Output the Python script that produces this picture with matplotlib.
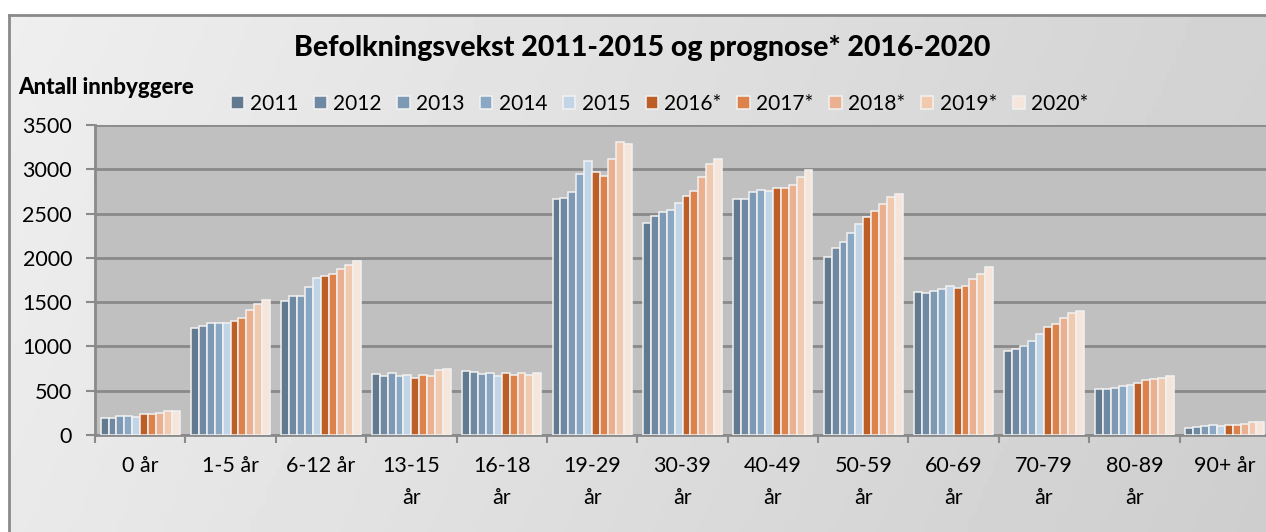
import matplotlib

matplotlib.use("Agg")
import matplotlib.pyplot as plt
import numpy as np

plt.rcParams["font.family"] = ["Lato", "DejaVu Sans"]

# ------------------------------------------------------------------ data
categories = ["0 år", "1-5 år", "6-12 år", "13-15\når", "16-18\når", "19-29\når",
              "30-39\når", "40-49\når", "50-59\når", "60-69\når", "70-79\når",
              "80-89\når", "90+ år"]
years = ["2011", "2012", "2013", "2014", "2015",
         "2016*", "2017*", "2018*", "2019*", "2020*"]

v2011 = [188, 1208, 1512, 692, 719, 2660, 2393, 2660, 2012, 1610, 952, 519, 79]
v2012 = [188, 1234, 1569, 662, 708, 2675, 2475, 2667, 2111, 1599, 967, 523, 94]
v2013 = [214, 1264, 1569, 700, 688, 2743, 2514, 2746, 2178, 1629, 1005, 527, 102]
v2014 = [218, 1261, 1667, 666, 696, 2942, 2536, 2765, 2283, 1651, 1065, 553, 113]
v2015 = [199, 1261, 1768, 681, 669, 3093, 2619, 2757, 2381, 1685, 1140, 568, 105]
v2016 = [233, 1290, 1795, 640, 703, 2965, 2694, 2788, 2457, 1663, 1219, 583, 116]
v2017 = [233, 1324, 1817, 674, 677, 2927, 2754, 2784, 2525, 1685, 1253, 617, 116]
v2018 = [248, 1407, 1877, 669, 700, 3115, 2912, 2825, 2604, 1761, 1317, 632, 128]
v2019 = [271, 1479, 1915, 730, 681, 3303, 3059, 2915, 2683, 1813, 1374, 647, 143]
v2020 = [275, 1520, 1964, 741, 703, 3281, 3119, 2988, 2717, 1893, 1400, 666, 143]
series = [v2011, v2012, v2013, v2014, v2015, v2016, v2017, v2018, v2019, v2020]

colors = ["#627a8f", "#6f89a2", "#7e99b4", "#8aa8c4", "#c1d5e7",
          "#bd5e26", "#dd824b", "#eab090", "#f1c9ae", "#f6e5da"]

W, H = 1266, 532
fig = plt.figure(figsize=(W / 100, H / 100), dpi=100)

# ---------------------------------------------- chart area with gradient
bg = fig.add_axes([9 / W, -0.02, 1.0, (H - 15) / H + 0.02], zorder=-2)
xs = np.linspace(0, 1, 256)
ys = np.linspace(0, 1, 64)
gx, gy = np.meshgrid(xs, ys)
shade = 0.915 - 0.11 * gx + 0.02 * (1 - gy)
bg.imshow(shade, cmap="gray", vmin=0, vmax=1, aspect="auto",
          extent=[0, 1, 0, 1], origin="upper")
bg.set_xticks([])
bg.set_yticks([])
for side in ["right", "bottom"]:
    bg.spines[side].set_visible(False)
for side in ["top", "left"]:
    bg.spines[side].set_color("#8a8a8a")
    bg.spines[side].set_linewidth(2)

# ------------------------------------------------------------- bar plot
ax = fig.add_axes([95 / W, (H - 435) / H, (1270 - 95) / W, (435 - 125) / H])
ax.set_facecolor("#c0c0c0")

x = np.arange(len(categories))
n = len(series)
group_w = 0.875
bw = group_w / n
for i, (vals, col, lab) in enumerate(zip(series, colors, years)):
    offs = -group_w / 2 + bw * (i + 0.5)
    ax.bar(x + offs, vals, width=bw, color=col, edgecolor="#f2f2f2",
           linewidth=1.1, label=lab, zorder=3)

ax.set_xlim(-0.5, len(categories) - 0.5)
ax.set_ylim(0, 3500)
ax.set_yticks(np.arange(0, 3501, 500))
ax.grid(axis="y", color="#8a8a8a", linewidth=2, zorder=0)
ax.set_axisbelow(True)

ax.set_xticks(x)
ax.set_xticklabels(categories, fontsize=15.5, linespacing=1.75, va="top")
ax.set_xticks(np.arange(-0.5, len(categories), 1), minor=True)
ax.tick_params(axis="x", which="major", length=0, pad=15)
ax.tick_params(axis="x", which="minor", length=6, width=1.5, color="#8a8a8a")
ax.tick_params(axis="y", length=6.5, width=1.5, color="#8a8a8a",
               labelsize=15.5, pad=10)

for side in ["top", "right"]:
    ax.spines[side].set_visible(False)
for side in ["left", "bottom"]:
    ax.spines[side].set_color("#8a8a8a")
    ax.spines[side].set_linewidth(2)

# ----------------------------------------------------------------- texts
fig.text(642 / W, 1 - 48 / H, "Befolkningsvekst 2011-2015 og prognose* 2016-2020",
         ha="center", va="center", fontsize=20.5, fontweight="black")
fig.text(18 / W, 1 - 88 / H, "Antall innbyggere", ha="left", va="center",
         fontsize=16, fontweight="black")

handles, labels = ax.get_legend_handles_labels()
fig.legend(handles, labels, loc="center", bbox_to_anchor=(660 / W, 1 - 104 / H),
           ncol=10, frameon=False, fontsize=15, handlelength=0.6,
           handleheight=0.6, handletextpad=0.3, columnspacing=0.75)

fig.savefig("out.png", dpi=100)
